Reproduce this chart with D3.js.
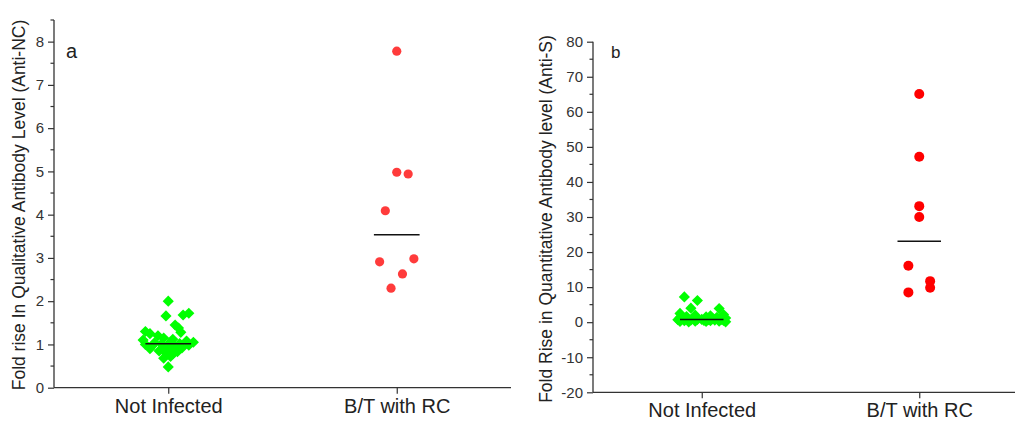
<!DOCTYPE html>
<html>
<head>
<meta charset="utf-8">
<script src="https://cdn.jsdelivr.net/npm/d3@7"></script>
<style>
  body { margin: 0; background: #fff; }
  text { font-family: Arial, "Liberation Sans", sans-serif; }
</style>
</head>
<body>
<div id="chart"></div>
<script>
// categories on the x axis of both panels
const categories = ["Not Infected", "B/T with RC"];

// [value, jitter] - jitter is the horizontal spread inside the category (category units)
const ncNotInfected = [
  [2.00, 0.00], [1.72, 0.09], [1.68, 0.065], [1.66, -0.01], [1.45, 0.03],
  [1.38, 0.045], [1.30, -0.10], [1.28, 0.055], [1.25, -0.08], [1.20, -0.045],
  [1.15, -0.02], [1.12, 0.02], [1.10, -0.11], [1.08, 0.08], [1.05, 0.11],
  [1.04, -0.06], [1.02, 0.05], [1.01, -0.03], [1.00, 0.00], [1.00, -0.10],
  [0.98, 0.09], [0.97, -0.07], [0.95, 0.03], [0.93, -0.02], [0.92, 0.06],
  [0.90, -0.08], [0.88, 0.01], [0.85, -0.04], [0.83, 0.04], [0.80, -0.01],
  [0.78, 0.02], [0.72, 0.01], [0.68, -0.02], [0.48, 0.00]
];
const ncBreakthrough = [
  [7.78, 0.00], [4.98, 0.00], [4.94, 0.05], [4.09, -0.05],
  [2.98, 0.075], [2.91, -0.075], [2.63, 0.025], [2.30, -0.025]
];

const sNotInfected = [
  [7.2, -0.08], [6.2, -0.02], [4.0, -0.05], [3.9, 0.08], [2.5, -0.10],
  [2.2, 0.10], [2.0, -0.03], [1.8, 0.04], [1.6, -0.07], [1.5, 0.02],
  [1.4, 0.07], [1.3, -0.10], [1.2, 0.11], [1.1, -0.04], [1.0, 0.05],
  [0.9, -0.08], [0.8, 0.00], [0.8, 0.09], [0.8, -0.02], [0.7, 0.03],
  [0.7, -0.11], [0.6, 0.06], [0.6, -0.05], [0.5, 0.01], [0.5, 0.10],
  [0.4, -0.08], [0.4, 0.04], [0.3, -0.03], [0.3, 0.08], [0.2, -0.10],
  [0.2, 0.02], [0.1, 0.11], [0.1, -0.06]
];
const sBreakthrough = [
  [65.1, 0.00], [47.2, 0.00], [33.1, 0.00], [30.0, 0.00],
  [16.1, -0.05], [11.7, 0.05], [9.8, 0.05], [8.5, -0.05]
];

const ncTicks = [0, 1, 2, 3, 4, 5, 6, 7, 8];
const sTicks = [-20, -10, 0, 10, 20, 30, 40, 50, 60, 70, 80];

const W = 1015, H = 421;
const svg = d3.select("#chart").append("svg")
  .attr("width", W).attr("height", H);

const axisColor = "#333";
const diamond = d3.symbol().type(d3.symbolSquare).size(62);

function drawPanel(opt) {
  const x = d3.scaleLinear().domain([0, 2]).range([opt.left, opt.right]);
  const y = d3.scaleLinear().domain(opt.yDomain).range([opt.bottom, opt.top]);
  const g = svg.append("g");

  // minor ticks
  g.selectAll(".minor")
    .data(opt.minor)
    .join("line")
    .attr("x1", opt.left - 3.5).attr("x2", opt.left)
    .attr("y1", d => y(d)).attr("y2", d => y(d))
    .attr("stroke", axisColor).attr("stroke-width", 1.2);

  // y axis
  const yAxis = g.append("g")
    .attr("transform", `translate(${opt.left},0)`)
    .call(d3.axisLeft(y).tickValues(opt.ticks).tickSize(6).tickPadding(4).tickFormat(d => String(d)));
  yAxis.select(".domain").attr("stroke", axisColor).attr("stroke-width", 1.3)
    .attr("d", `M0,${opt.bottom}V${opt.top}`);
  yAxis.selectAll(".tick line").attr("stroke", axisColor).attr("stroke-width", 1.2);
  yAxis.selectAll(".tick text").attr("fill", "#333").style("font-size", "15px")
    .style("font-family", "Arial, 'Liberation Sans', sans-serif");

  // x axis
  const xAxis = g.append("g")
    .attr("transform", `translate(0,${opt.bottom})`)
    .call(d3.axisBottom(x).tickValues([0.5, 1.5]).tickSize(6).tickPadding(5)
      .tickFormat((d, i) => categories[i]));
  xAxis.select(".domain").attr("stroke", axisColor).attr("stroke-width", 1.3)
    .attr("d", `M${opt.left},0H${opt.right}`);
  xAxis.selectAll(".tick line").attr("stroke", axisColor).attr("stroke-width", 1.2);
  xAxis.selectAll(".tick text").attr("fill", "#222").style("font-size", "20px")
    .style("font-family", "Arial, 'Liberation Sans', sans-serif");

  // y title
  g.append("text")
    .attr("transform", `translate(${opt.titleX},${opt.titleY}) rotate(-90)`)
    .attr("text-anchor", "middle")
    .attr("fill", "#222")
    .style("font-size", "17.5px")
    .text(opt.title);

  // panel letter
  g.append("text")
    .attr("x", opt.left + opt.letterDx).attr("y", opt.letterY)
    .attr("fill", "#222")
    .style("font-size", opt.letterSize)
    .text(opt.letter);

  // green diamonds
  g.selectAll(".dia")
    .data(opt.groupA)
    .join("path")
    .attr("d", diamond)
    .attr("transform", d => `translate(${x(0.5 + d[1])},${y(d[0])}) rotate(45)`)
    .attr("fill", "#00ff00");

  // red circles
  g.selectAll(".dot")
    .data(opt.groupB)
    .join("circle")
    .attr("cx", d => x(1.5 + d[1]))
    .attr("cy", d => y(d[0]))
    .attr("r", opt.r)
    .attr("fill", opt.red);

  // median lines
  const meds = [
    { c: 0.5, v: d3.median(opt.groupA, d => d[0]) },
    { c: 1.5, v: d3.median(opt.groupB, d => d[0]) }
  ];
  g.selectAll(".med")
    .data(meds)
    .join("line")
    .attr("x1", d => x(d.c - 0.1)).attr("x2", d => x(d.c + 0.1))
    .attr("y1", d => y(d.v)).attr("y2", d => y(d.v))
    .attr("stroke", "#111").attr("stroke-width", 1.5);
}

drawPanel({
  left: 54, right: 511, top: 20, bottom: 387.7,
  yDomain: [0, 8.5], ticks: ncTicks,
  minor: d3.range(0.5, 8.6, 1),
  title: "Fold rise In Qualitative Antibody Level (Anti-NC)",
  titleX: 25, titleY: 205,
  letter: "a", letterDx: 12, letterY: 58, letterSize: "20px",
  groupA: ncNotInfected, groupB: ncBreakthrough,
  r: 4.6, red: "#ff3b3b"
});

drawPanel({
  left: 593, right: 1028, top: 41.7, bottom: 392.3,
  yDomain: [-20, 80], ticks: sTicks,
  minor: d3.range(-15, 80, 10),
  title: "Fold Rise in Quantitative Antibody level (Anti-S)",
  titleX: 552, titleY: 219,
  letter: "b", letterDx: 18, letterY: 58, letterSize: "17px",
  groupA: sNotInfected, groupB: sBreakthrough,
  r: 5, red: "#ff0000"
});
</script>
</body>
</html>
